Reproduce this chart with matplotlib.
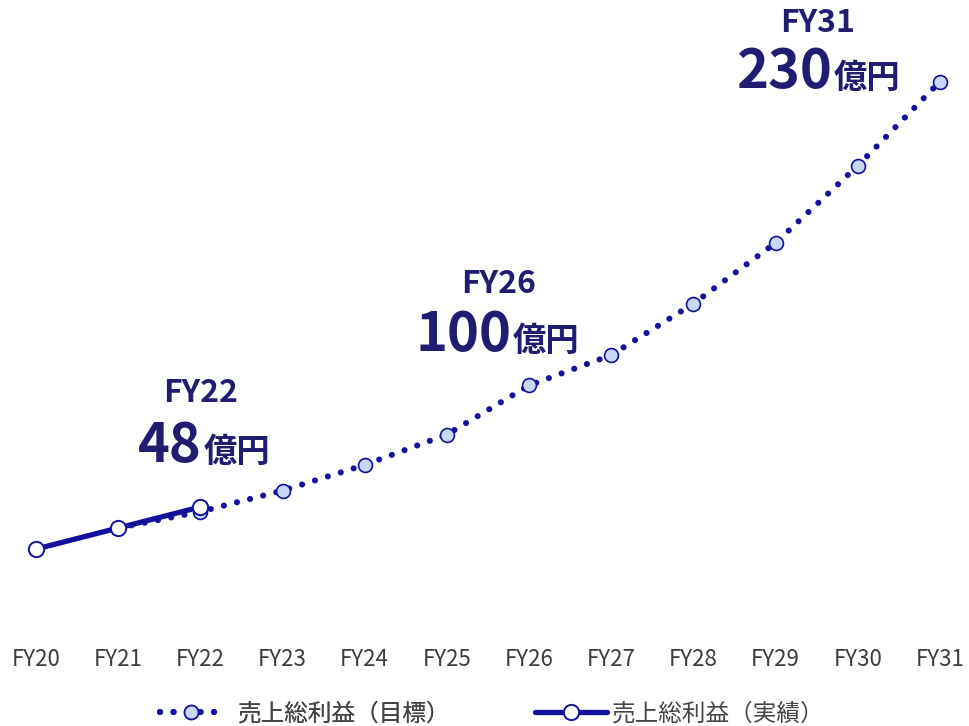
import numpy as np
from matplotlib import pyplot as plt

plt.rcParams["font.family"] = ["Noto Sans CJK JP", "DejaVu Sans"]

years = ["FY20", "FY21", "FY22", "FY23", "FY24", "FY25",
         "FY26", "FY27", "FY28", "FY29", "FY30", "FY31"]

# gross profit target (億円), from FY21 onward
target_years = years[1:]
target_values = [39, 46, 55, 66, 79, 100, 113, 135, 161, 194, 230]

# gross profit actual (億円)
actual_years = ["FY20", "FY21", "FY22"]
actual_values = [30, 39, 48]

# callouts: (year, value, value text)
callouts = [
    ("FY22", 48, "48"),
    ("FY26", 100, "100"),
    ("FY31", 230, "230"),
]
# label placement in pixels relative to each point: (dx split, dy number, dx FY, dy FY)
callout_offsets = {
    "FY22": (1, 45, 0, 105),
    "FY26": (-18, 34, -31, 92),
    "FY31": (-108, -6, -122, 50),
}

LINE = "#12109c"
FILL = "#c9d7f7"
TEXT = "#201c72"
TICK = "#3c3c3c"

fig = plt.figure(figsize=(9.69, 7.26), dpi=100)
ax = fig.add_axes([0, 0.1185, 1, 0.8815])

x_target = [years.index(y) for y in target_years]
x_actual = [years.index(y) for y in actual_years]

target_line, = ax.plot(x_target, target_values, color=LINE, linewidth=4.4,
                       linestyle=(0, (0.01, 2.2)), dash_capstyle="round",
                       marker="o", markersize=10, markerfacecolor=FILL,
                       markeredgecolor=LINE, markeredgewidth=1.2, zorder=2,
                       label="売上総利益（目標）")
actual_line, = ax.plot(x_actual, actual_values, color=LINE, linewidth=3.8,
                       solid_capstyle="round",
                       marker="o", markersize=11, markerfacecolor="white",
                       markeredgecolor=LINE, markeredgewidth=1.4, zorder=3,
                       label="売上総利益（実績）")

for year, value, text in callouts:
    xi = years.index(year)
    dx_split, dy_num, dx_fy, dy_fy = callout_offsets[year]
    ax.annotate(year, xy=(xi, value), xytext=(dx_fy, dy_fy),
                textcoords="offset pixels", ha="center", va="baseline",
                fontsize=23, fontweight="bold", color=TEXT)
    ax.annotate(text, xy=(xi, value), xytext=(dx_split, dy_num),
                textcoords="offset pixels", ha="right", va="baseline",
                fontsize=39, fontweight="bold", color=TEXT)
    ax.annotate("億円", xy=(xi, value), xytext=(dx_split + 2, dy_num),
                textcoords="offset pixels", ha="left", va="baseline",
                fontsize=24, fontweight="bold", color=TEXT)

ax.set_xlim(-0.438, 11.353)
ax.set_ylim(-8.9, 264.9)
ax.set_xticks(range(len(years)))
ax.set_xticklabels(years)
ax.tick_params(axis="x", length=0, pad=6, labelsize=16, labelcolor=TICK)
ax.set_yticks([])
for spine in ax.spines.values():
    spine.set_visible(False)

# two legend entries, each with its own handle length
legend_style = dict(loc="center left", frameon=False, fontsize=17,
                    labelcolor="#444444", numpoints=1,
                    borderpad=0, borderaxespad=0)
leg1 = fig.legend(handles=[target_line], bbox_to_anchor=(160 / 969, 0.0165),
                  handlelength=2.6, handletextpad=0.7, **legend_style)
fig.legend(handles=[actual_line], bbox_to_anchor=(535 / 969, 0.0165),
           handlelength=3.05, handletextpad=0.2, **legend_style)
fig.add_artist(leg1)

fig.savefig("out.png", dpi=100)
